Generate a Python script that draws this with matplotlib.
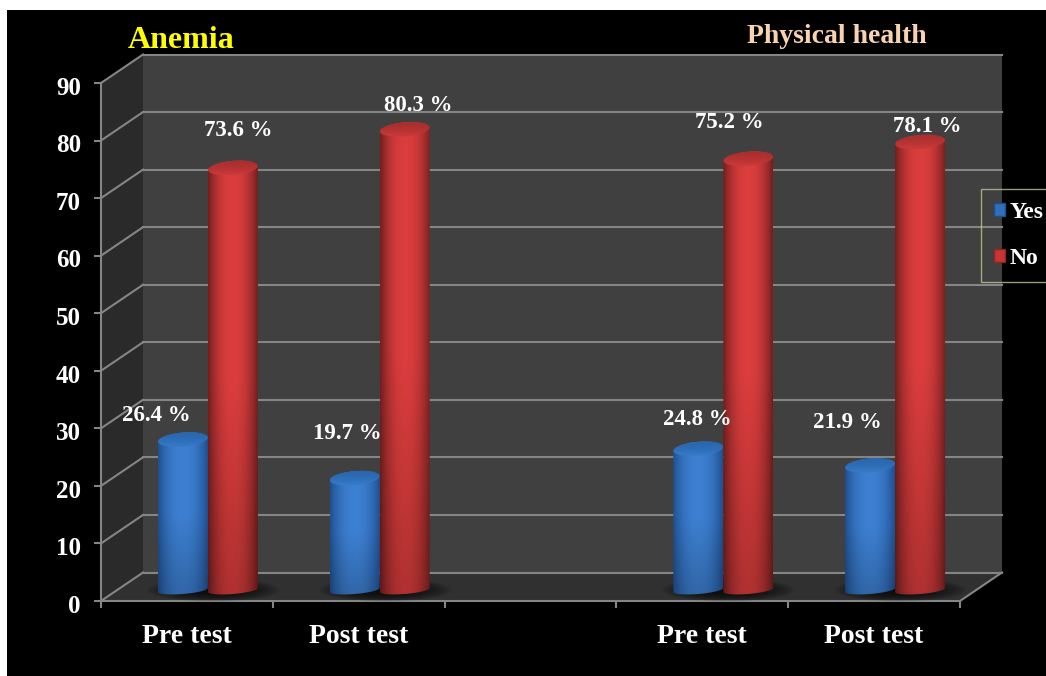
import numpy as np
import matplotlib
matplotlib.use("Agg")
import matplotlib.pyplot as plt
from matplotlib.patches import Polygon, Rectangle, PathPatch, Patch
from matplotlib.path import Path
from matplotlib.transforms import ScaledTranslation

plt.rcParams['font.family'] = ['Liberation Serif', 'DejaVu Serif']
plt.rcParams['font.weight'] = 'bold'

# values
categories = ['Pre test', 'Post test', '', 'Pre test', 'Post test']
slots = [0, 1, 3, 4]
yes = [26.4, 19.7, 24.8, 21.9]
no = [73.6, 80.3, 75.2, 78.1]
yticks = list(range(0, 100, 10))

W, H = 1046, 676
fig = plt.figure(figsize=(W / 100, H / 100), dpi=100, facecolor='white')

# black panel, white sliver on the top and left
fig.add_artist(Rectangle((7 / W, 0), 1, 1 - 10 / H, transform=fig.transFigure,
                         facecolor='black', edgecolor='none', zorder=-1))

# axes = front plane of the 3d box
left, right, bottom, top = 101, 960, 601, 83
ax = fig.add_axes([left / W, 1 - bottom / H, (right - left) / W, (bottom - top) / H])
ax.patch.set_visible(False)

px_x = (right - left) / 5.0   # pixels per category
px_y = (bottom - top) / 90.0  # pixels per unit
dx = 42 / px_x                # box depth in data units
dy = 28.5 / px_y

GRID = '#858585'

# walls and floor
ax.add_patch(Polygon([(-0.5 + dx, dy), (4.5 + dx, dy), (4.5 + dx, 90 + dy), (-0.5 + dx, 90 + dy)],
                     facecolor='#404040', edgecolor='none', clip_on=False, zorder=1))
ax.add_patch(Polygon([(-0.5, 0), (-0.5 + dx, dy), (-0.5 + dx, 90 + dy), (-0.5, 90)],
                     facecolor='#2a2a2a', edgecolor='none', clip_on=False, zorder=1))
ax.add_patch(Polygon([(-0.5, 0), (4.5, 0), (4.5 + dx, dy), (-0.5 + dx, dy)],
                     facecolor='#303030', edgecolor='none', clip_on=False, zorder=1))

# grid on back wall and side wall
for v in yticks:
    ax.plot([-0.5 + dx, 4.5 + dx], [v + dy, v + dy], color=GRID, lw=1.5, clip_on=False, zorder=2)
    ax.plot([-0.5, -0.5 + dx], [v, v + dy], color=GRID, lw=1.5, clip_on=False, zorder=2)
ax.plot([4.5, 4.5 + dx], [0, dy], color=GRID, lw=1.5, clip_on=False, zorder=2)

# cylinders
half_w = 25 / px_x
offset = 21 / px_x
base = 9.5 / px_y
foot = 11 / px_y       # centre of the bottom ellipse above the front edge
cap = 7 / px_y
foot_cap = 4 / px_y
tilt = (4 / px_y) / (50 / px_x)

shades = {
    'yes': (np.array([0.12, 0.31, 0.56]), np.array([0.24, 0.50, 0.82]),
            np.array([0.16, 0.40, 0.68]), np.array([0.24, 0.52, 0.84])),
    'no': (np.array([0.45, 0.12, 0.12]), np.array([0.86, 0.24, 0.24]),
           np.array([0.66, 0.18, 0.18]), np.array([0.86, 0.25, 0.25])),
}


def ellipse_pts(xc, yc, start, stop, b, n=40):
    t = np.linspace(start, stop, n)
    x = half_w * np.cos(t)
    y = b * np.sin(t) + tilt * x
    return np.column_stack([xc + x, yc + y])


def shadow(xc):
    gx, gy = np.meshgrid(np.linspace(-1, 1, 80), np.linspace(-1, 1, 30))
    a = np.clip(1 - (gx ** 2 + gy ** 2), 0, 1) ** 0.8
    img = np.zeros((30, 80, 4))
    img[..., 3] = a * 0.75
    ax.imshow(img, extent=(xc - 0.36, xc + 0.42, foot - 2.0, foot + 2.0), aspect='auto',
              zorder=3, interpolation='bilinear', clip_on=False)


def cylinder(xc, value, key):
    edge, mid, cap_back, cap_front = shades[key]
    y1 = base + value
    # side surface: bottom arc then top edge
    side = np.vstack([ellipse_pts(xc, foot, np.pi, 2 * np.pi, foot_cap), ellipse_pts(xc, y1, 0, np.pi, cap)])
    clip = PathPatch(Path(np.vstack([side, side[0]])), transform=ax.transData)
    # brighter in the middle, darker toward the edges and the floor
    u = np.linspace(-1, 1, 120)
    across = (1 - np.abs(u) ** 2.2)[None, :, None]
    v = np.linspace(1, 0, 100)
    down = (0.8 + 0.2 * np.clip(v * 2, 0, 1))[:, None, None]
    img = (edge[None, None, :] + (mid - edge)[None, None, :] * across) * down
    im = ax.imshow(np.clip(img, 0, 1), extent=(xc - half_w, xc + half_w, foot - cap, y1 + cap * 1.5),
                   aspect='auto', zorder=4, interpolation='bilinear', clip_on=True)
    im.set_clip_path(clip)
    # top face: darker at the back, light along the front rim
    w = np.linspace(0, 1, 30)[:, None, None]
    face = np.tile(cap_back[None, None, :] + (cap_front - cap_back)[None, None, :] * w ** 2, (1, 4, 1))
    rim = Polygon(ellipse_pts(xc, y1, 0, 2 * np.pi, cap), closed=True, transform=ax.transData)
    im2 = ax.imshow(face, extent=(xc - half_w, xc + half_w, y1 - cap * 1.6, y1 + cap * 1.6),
                    aspect='auto', zorder=5, interpolation='bilinear', clip_on=True)
    im2.set_clip_path(rim)


for s in slots:
    shadow(s + offset)
for s, a, b in zip(slots, yes, no):
    cylinder(s + offset - half_w, a, 'yes')
    cylinder(s + offset + half_w, b, 'no')

# value labels, pixel offsets from the bar tops
yes_off = [(-27, 24), (-7, 45), (-1, 29), (-23, 43)]
no_off = [(5, 37), (14, 24), (-19, 36), (7, 15)]
for s, a, b, oa, ob in zip(slots, yes, no, yes_off, no_off):
    ax.annotate(f'{a} %', (s + offset - half_w, base + a), xytext=oa, textcoords='offset pixels',
                ha='center', va='center', color='white', fontsize=16.5, annotation_clip=False, zorder=6)
    ax.annotate(f'{b} %', (s + offset + half_w, base + b), xytext=ob, textcoords='offset pixels',
                ha='center', va='center', color='white', fontsize=16.5, annotation_clip=False, zorder=6)

# axes
ax.set_xlim(-0.5, 4.5)
ax.set_ylim(0, 90)
for side in ['top', 'right']:
    ax.spines[side].set_visible(False)
for side in ['left', 'bottom']:
    ax.spines[side].set_color(GRID)
    ax.spines[side].set_linewidth(1.5)
    ax.spines[side].set_zorder(2)
ax.set_yticks(yticks)
ax.set_xticks(np.arange(-0.5, 5.0, 1.0))
ax.set_xticklabels([])
ax.set_xticks(range(5), categories, minor=True)
ax.tick_params(axis='y', colors=GRID, length=5, width=1.5, pad=9.5, labelcolor='white', labelsize=18)
ax.tick_params(axis='x', which='major', colors=GRID, length=5, width=1.5)
ax.tick_params(axis='x', which='minor', length=0, pad=16.5, labelcolor='white', labelsize=20)

# y labels sit a little under their ticks
nudge = ScaledTranslation(0, -2 / 72, fig.dpi_scale_trans)
for lbl in ax.get_yticklabels():
    lbl.set_transform(lbl.get_transform() + nudge)

# titles
fig.text(181 / W, 1 - 48 / H, 'Anemia', color='#ffff00', fontsize=23, ha='center', va='baseline')
fig.text(837 / W, 1 - 43 / H, 'Physical health', color='#f8d3b0', fontsize=20, ha='center', va='baseline')

# legend
handles = [Patch(facecolor='#2f6fbb', edgecolor='#1f4f8f', label='Yes'),
           Patch(facecolor='#c53535', edgecolor='#8f2525', label='No')]
leg = fig.legend(handles=handles, loc='upper left', bbox_to_anchor=(981 / W, 1 - 189 / H),
                 bbox_transform=fig.transFigure, frameon=True, fontsize=17, labelcolor='white',
                 handlelength=0.47, handleheight=0.47, handletextpad=0.2, labelspacing=1.05,
                 borderpad=0.55, borderaxespad=0, fancybox=False)
leg.get_frame().set_facecolor('none')
leg.get_frame().set_edgecolor('#b9c795')
leg.get_frame().set_linewidth(1.0)

fig.savefig('out.png', dpi=100, facecolor=fig.get_facecolor())
